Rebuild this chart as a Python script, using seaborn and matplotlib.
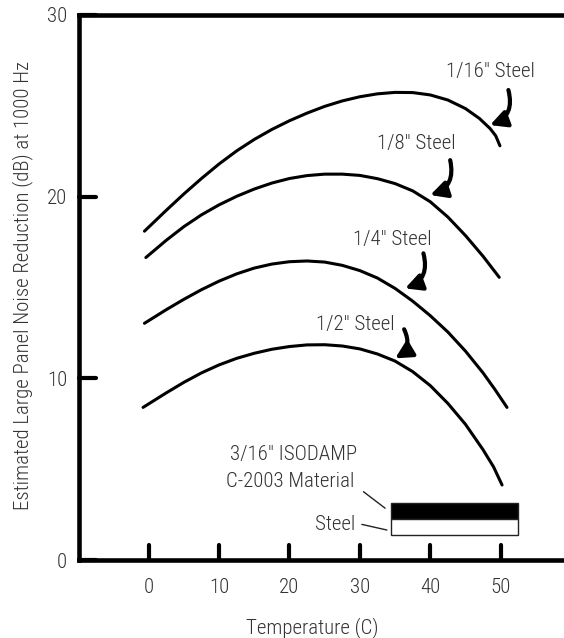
import os
import numpy as np
import pandas as pd
import matplotlib
matplotlib.use('Agg')
import matplotlib.pyplot as plt
import seaborn as sns
from matplotlib import font_manager as fm
from matplotlib.patches import Rectangle
from matplotlib.markers import MarkerStyle

# ---- data ----
temp_16 = [-0.6, 2.5, 5, 7.5, 10, 12.5, 15, 17.5, 20, 22.5, 25, 27.5, 30, 32.5,
           35, 37.5, 40, 42.5, 45, 47, 48.5, 49.3, 49.9]
nr_16 = [18.1, 19.25, 20.15, 21.0, 21.8, 22.52, 23.15, 23.7, 24.18, 24.6, 24.97,
         25.27, 25.5, 25.66, 25.74, 25.73, 25.6, 25.32, 24.85, 24.3, 23.75, 23.35, 22.8]

temp_8 = [-0.4, 2.5, 5, 7.5, 10, 12.5, 15, 17.5, 20, 22.5, 25, 27.5, 30, 32.5,
          35, 37.5, 40, 42.5, 45, 47.5, 49.8]
nr_8 = [16.65, 17.6, 18.35, 19.0, 19.55, 20.02, 20.42, 20.75, 21.0, 21.16, 21.24,
        21.24, 21.17, 20.99, 20.72, 20.32, 19.72, 18.88, 17.86, 16.72, 15.56]

temp_4 = [-0.6, 2.5, 5, 7.5, 10, 12.5, 15, 17.5, 20, 22.5, 25, 27.5, 30, 32.5,
          35, 37.5, 40, 42.5, 45, 47.5, 49.2, 50.9]
nr_4 = [13.03, 13.78, 14.35, 14.88, 15.35, 15.75, 16.07, 16.29, 16.42, 16.46, 16.40,
        16.22, 15.93, 15.52, 14.95, 14.25, 13.45, 12.55, 11.5, 10.3, 9.38, 8.4]

temp_2 = [-0.8, 2.5, 5, 7.5, 10, 12.5, 15, 17.5, 20, 22.5, 25, 27.5, 30, 32.5,
          35, 37.5, 40, 42.5, 45, 47.5, 49, 50.2]
nr_2 = [8.4, 9.2, 9.78, 10.3, 10.74, 11.1, 11.38, 11.6, 11.75, 11.84, 11.85, 11.78,
        11.62, 11.34, 10.95, 10.37, 9.6, 8.62, 7.47, 6.07, 5.12, 4.13]

series_labels = ['1/16" Steel', '1/8" Steel', '1/4" Steel', '1/2" Steel']
x_ticks = [0, 10, 20, 30, 40, 50]
y_ticks = [0, 10, 20, 30]
x_label = 'Temperature (C)'
y_label = 'Estimated Large Panel Noise Reduction (dB) at 1000 Hz'

frames = []
for lab, t, v in zip(series_labels, [temp_16, temp_8, temp_4, temp_2],
                     [nr_16, nr_8, nr_4, nr_2]):
    frames.append(pd.DataFrame({'Temperature': t, 'NR': v, 'Series': lab}))
df = pd.concat(frames, ignore_index=True)

# ---- style ----
sns.set_theme(style='white')
plt.rcParams['font.family'] = ['DejaVu Sans']
TXT = '#333333'
FS = 15


def pick_condensed():
    entries = fm.fontManager.ttflist
    bad = ('bold', 'italic', 'oblique', 'semi', 'black', 'extra', 'medium', 'thin', 'heavy')
    prefs = ['liberation sans narrow', 'roboto condensed', 'open sans condensed',
             'noto sans condensed', 'dejavu sans condensed']
    cands = []
    for e in entries:
        b = os.path.basename(e.fname).lower()
        n = e.name.lower()
        if not (('narrow' in b or 'condensed' in b or 'narrow' in n or 'condensed' in n)):
            continue
        if any(k in b for k in bad) or e.style != 'normal':
            continue
        score = 10
        for i, p in enumerate(prefs):
            if p in n or p.replace(' ', '') in b.replace('-', '').replace('_', ''):
                score = i
                break
        if 'light' in b:
            score -= 0.5
        cands.append((score, e.fname))
    cands.sort()
    return cands[0][1] if cands else None


font_path = pick_condensed()
if font_path:
    def fp(size=FS):
        return fm.FontProperties(fname=font_path, size=size)
else:
    def fp(size=FS):
        return fm.FontProperties(family=['Roboto', 'DejaVu Sans'], size=size - 1.5)

fig = plt.figure(figsize=(5.64, 6.38), dpi=100)
ax = fig.add_axes([79 / 564, 1 - 560 / 638, 485 / 564, 545 / 638])

sns.lineplot(data=df, x='Temperature', y='NR', hue='Series',
             palette=['black'] * 4, estimator=None, sort=False,
             linewidth=2.2, legend=False, ax=ax)

ax.set_xlim(-9.9, 59.0)
ax.set_ylim(0, 30)
ax.set_xticks(x_ticks)
ax.set_yticks(y_ticks)

for side in ['left', 'bottom', 'top']:
    ax.spines[side].set_visible(True)
    ax.spines[side].set_color('black')
    ax.spines[side].set_linewidth(3.3)
ax.spines['right'].set_visible(False)

ax.tick_params(axis='x', direction='in', length=11, width=3, color='black',
               pad=13, labelcolor=TXT, bottom=True, top=False)
ax.tick_params(axis='y', direction='in', length=12.5, width=3, color='black',
               pad=8.5, labelcolor=TXT, left=True, right=False)
ax.set_xticklabels([str(x) for x in x_ticks], fontproperties=fp())
ax.set_yticklabels([str(y) for y in y_ticks], fontproperties=fp())

ax.set_xlabel(x_label, fontproperties=fp(), color=TXT, va='center')
ax.set_ylabel(y_label, fontproperties=fp(), color=TXT, va='center')
ax.xaxis.set_label_coords(0.48, -0.123)
ax.yaxis.set_label_coords(-0.1175, 0.503)

# ---- curve labels and curved arrows ----
label_pos = [(48.5, 26.87), (38.0, 22.93), (34.66, 17.65), (29.33, 12.99)]
arrow_tail = [(51.1, 25.87), (42.83, 22.01), (39.03, 16.88), (36.29, 12.70)]
arrow_tip = [(48.5, 23.94), (40.0, 20.09), (36.43, 14.95), (35.01, 11.10)]
for lab, lp, tail, tip in zip(series_labels, label_pos, arrow_tail, arrow_tip):
    ax.text(lp[0], lp[1], lab, fontproperties=fp(), color=TXT, ha='center', va='center')
    ax.annotate('', xy=tip, xytext=tail, xycoords='data', textcoords='data',
                arrowprops=dict(arrowstyle='-|>,head_length=0.7,head_width=0.36',
                                connectionstyle='arc3,rad=-0.45',
                                lw=3, color='black', shrinkA=0, shrinkB=0,
                                mutation_scale=14))

# ---- inset material schematic ----
ax.add_patch(Rectangle((34.4, 2.24), 18.0, 0.88, facecolor='black',
                       edgecolor='#222222', lw=1, zorder=3))
ax.add_patch(Rectangle((34.4, 1.39), 18.0, 0.85, facecolor='white',
                       edgecolor='#222222', lw=1, zorder=3))
ax.text(29.6, 5.78, '3/16" ISODAMP', fontproperties=fp(), color=TXT, ha='right', va='center')
ax.text(29.2, 4.31, 'C-2003 Material', fontproperties=fp(), color=TXT, ha='right', va='center')
ax.text(29.33, 1.98, 'Steel', fontproperties=fp(), color=TXT, ha='right', va='center')
ax.annotate('', xy=(33.59, 2.85), xytext=(30.51, 3.76),
            arrowprops=dict(arrowstyle='-', lw=1, color='#222222', shrinkA=0, shrinkB=0))
ax.annotate('', xy=(33.84, 1.65), xytext=(30.28, 1.96),
            arrowprops=dict(arrowstyle='-', lw=1, color='#222222', shrinkA=0, shrinkB=0))

# rounded tick ends
try:
    for tl in list(ax.xaxis.get_ticklines()) + list(ax.yaxis.get_ticklines()):
        tl.set_marker(MarkerStyle(tl.get_marker(), capstyle='round'))
except Exception:
    pass

fig.savefig('out.png', dpi=100, facecolor='white')
